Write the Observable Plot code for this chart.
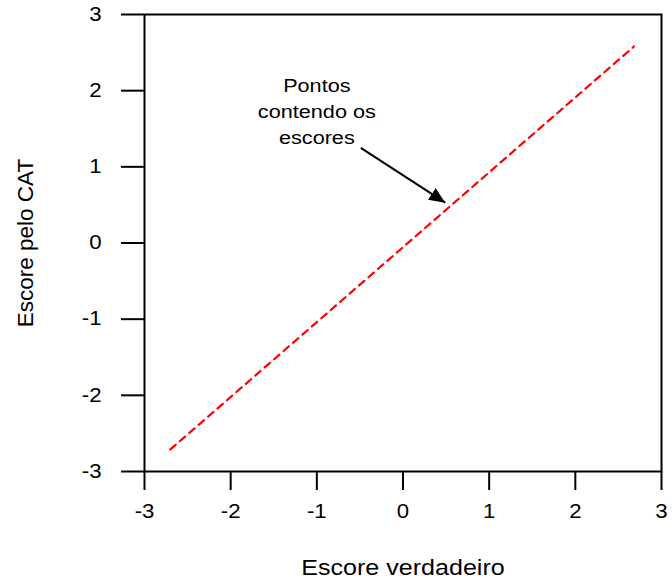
<!DOCTYPE html>
<html>
<head>
<meta charset="utf-8">
<script src="https://cdn.jsdelivr.net/npm/d3@7"></script>
<script src="https://cdn.jsdelivr.net/npm/@observablehq/plot@0.6"></script>
<style>
  html, body { margin: 0; padding: 0; background: #fff; }
  svg { font-family: "Liberation Sans", Arial, sans-serif; }
</style>
</head>
<body>
<div id="chart"></div>
<script>
// Axis ticks
const xTicks = [-3, -2, -1, 0, 1, 2, 3];
const yTicks = [-3, -2, -1, 0, 1, 2, 3];
// Dashed line endpoints (true score vs CAT score)
const lineX = [-2.70, 2.68];
const lineY = [-2.71, 2.58];
// Annotation
const noteText = ["Pontos", "contendo os", "escores"];
const noteX = -1.0;
const noteY = 1.745;
const arrowFrom = [-0.49, 1.25];
const arrowTo = [0.49, 0.53];
const xLabel = "Escore verdadeiro";
const yLabel = "Escore pelo CAT";

const lineData = lineX.map((x, i) => ({x, y: lineY[i]}));

const plot = Plot.plot({
  width: 672,
  height: 582,
  marginLeft: 144,
  marginRight: 11,
  marginTop: 14,
  marginBottom: 111,
  style: {fontFamily: "'Liberation Sans', Arial, sans-serif", fontSize: "19px", color: "#000", background: "#fff"},
  x: {domain: [-3, 3], ticks: xTicks, tickFormat: d => String(d), label: null},
  y: {domain: [-3, 3], ticks: yTicks, tickFormat: d => String(d), label: null},
  marks: [
    Plot.frame({stroke: "#000", strokeWidth: 2}),
    Plot.axisX({ticks: xTicks, tickSize: 19, tickPadding: 14, strokeWidth: 2, fontSize: 19.5, label: null, tickFormat: d => String(d)}),
    Plot.axisY({ticks: yTicks, tickSize: 23, tickPadding: 20, strokeWidth: 2, fontSize: 19.5, label: null, tickFormat: d => String(d)}),
    Plot.line(lineData, {x: "x", y: "y", stroke: "#ff0000", strokeWidth: 2.2, strokeDasharray: "7,5.5"}),
    Plot.link([{x1: arrowFrom[0], y1: arrowFrom[1], x2: arrowTo[0], y2: arrowTo[1]}], {x1: "x1", y1: "y1", x2: "x2", y2: "y2", stroke: "#000", strokeWidth: 2, markerEnd: "arrow"}),
    Plot.text([noteText.join("\n")], {x: noteX, y: noteY, text: d => d, fontSize: 19, lineHeight: 1.37, fill: "#000"}),
    Plot.text([xLabel], {frameAnchor: "bottom", dy: 103, text: d => d, fontSize: 22, fill: "#000"}),
    Plot.text([yLabel], {frameAnchor: "left", textAnchor: "middle", dx: -119, rotate: -90, text: d => d, fontSize: 22.5, fill: "#000"})
  ]
});

// Filled arrow head
d3.select(plot).selectAll("marker")
  .attr("viewBox", "-16 -7 16 14")
  .attr("markerUnits", "userSpaceOnUse")
  .attr("markerWidth", 16)
  .attr("markerHeight", 14)
  .attr("refX", 0)
  .attr("refY", 0)
  .attr("fill", "#000")
  .attr("stroke", "none")
  .selectAll("path")
  .attr("d", "M-16,-7L0,0L-16,7Z");

// The reference is slightly stretched horizontally: widen horizontal text.
d3.select(plot).selectAll("text").each(function() {
  const t = this.getAttribute("transform") || "";
  if (t.includes("rotate")) return;
  this.setAttribute("transform", (t ? t + " " : "") + "scale(1.14,1)");
});

document.getElementById("chart").appendChild(plot);
</script>
</body>
</html>
